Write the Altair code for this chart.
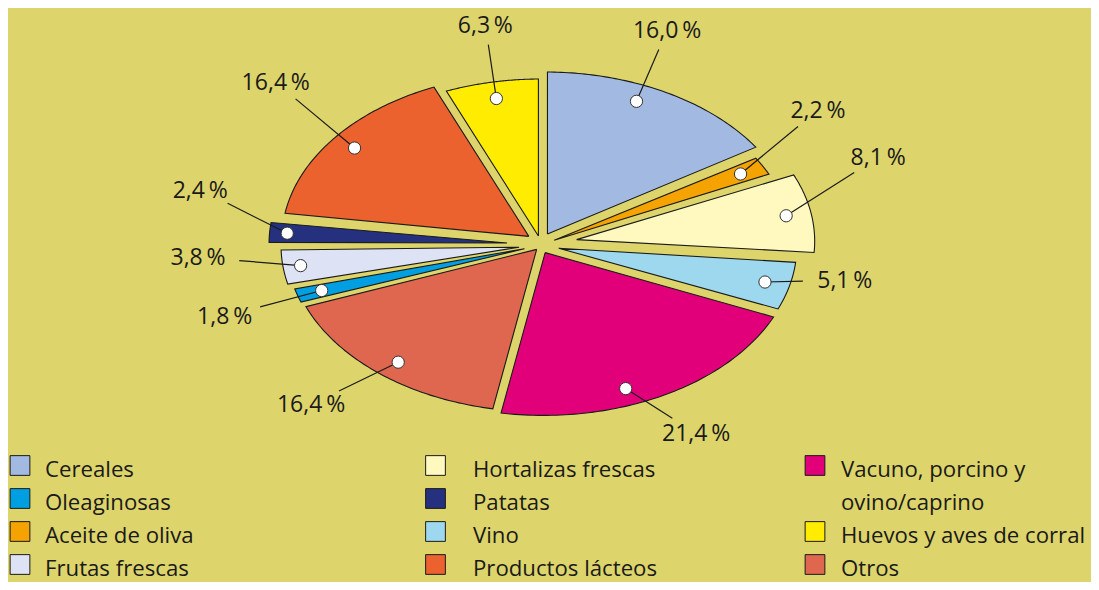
import altair as alt
import pandas as pd

# ---------------- data ----------------
categories = ["Cereales", "Aceite de oliva", "Hortalizas frescas", "Vino",
              "Vacuno, porcino y ovino/caprino", "Otros", "Oleaginosas",
              "Frutas frescas", "Patatas", "Productos lácteos",
              "Huevos y aves de corral"]
shares = [16.0, 2.2, 8.1, 5.1, 21.4, 16.4, 1.8, 3.8, 2.4, 16.4, 6.3]

legend_columns = [
    ["Cereales", "Oleaginosas", "Aceite de oliva", "Frutas frescas"],
    ["Hortalizas frescas", "Patatas", "Vino", "Productos lácteos"],
    ["Vacuno, porcino y ovino/caprino", "Huevos y aves de corral", "Otros"],
]
legend_wrap = {"Vacuno, porcino y ovino/caprino": "Vacuno, porcino y\novino/caprino"}

# ---------------- style ----------------
colors = ["#A2B9E1", "#F5A300", "#FFF8BF", "#9ED8EE", "#E2007A", "#DF664F",
          "#009FE1", "#DDE2F4", "#25307F", "#EC622E", "#FFEC00"]
explode = [8, 0, 22, 4, 5, 1, 3, 8, 20, 9, 0]                       # px, per slice
dot_nudge = [-5, 0, 0, 0, 7, -1, 0, 0, 0, 0, 0]                     # deg
dot_radius = [0.9, 0.9, 0.9, 0.9, 0.9, 0.9, 0.9, 0.93, 0.93, 0.9, 0.9]
label_nudge = [-7.7, -8.1, -11.7, -4.0, -0.2, 3.7, -1.5, 4.2, 10.0, 5.2, 1.9]   # deg
label_radius = [1.388, 1.367, 1.438, 1.224, 1.291, 1.325, 1.327, 1.363, 1.393, 1.438, 1.345]

BG = "#DDD56B"
INK = "#1A1A1A"
FONT = "Open Sans"
CX, CY, A, B = 541, 245, 252, 166
N = 72
G = 2.6          # half gap between slices (px)
CAP = 14         # max tip displacement for thin slices
HW, HH, GAP = 36, 14, 6

# the drawing area equals the page minus its 8px margin (coordinates = page pixels)
W, H = 1083, 574
xs = alt.Scale(domain=[8, 8 + W], nice=False, zero=False)
ys = alt.Scale(domain=[8 + H, 8], nice=False, zero=False)

pie_df = pd.DataFrame({
    "cat": categories,
    "share": shares,
    "order": list(range(len(categories))),
    "explode": explode,
    "dn": dot_nudge,
    "dr": dot_radius,
    "nudge": label_nudge,
    "lr": label_radius,
    "label": [f"{v:.1f}".replace(".", ",") + "\u2009%" for v in shares],
})

color_scale = alt.Scale(domain=categories, range=colors)


def calc(chart, **kw):
    for k, v in kw.items():
        chart = chart.transform_calculate(**{k: v})
    return chart


base = alt.Chart(pie_df).transform_window(
    cum="sum(share)", sort=[alt.SortField("order")]
).transform_joinaggregate(total="sum(share)")

base = calc(
    base,
    a0="2*PI*(datum.cum - datum.share)/datum.total",
    a1="2*PI*datum.cum/datum.total",
    am="(datum.a0 + datum.a1)/2",
    ox=f"{CX} + datum.explode*sin(datum.am)",
    oy=f"{CY} - datum.explode*cos(datum.am)",
)

# slice polygons (inset by G on both straight edges)
pts = calc(
    base,
    t0x=f"{A}*sin(datum.a0)", t0y=f"-{B}*cos(datum.a0)",
    t1x=f"{A}*sin(datum.a1)", t1y=f"-{B}*cos(datum.a1)",
    l0="sqrt(datum.t0x*datum.t0x + datum.t0y*datum.t0y)",
    l1="sqrt(datum.t1x*datum.t1x + datum.t1y*datum.t1y)",
    u0x="datum.t0x/datum.l0", u0y="datum.t0y/datum.l0",
    u1x="datum.t1x/datum.l1", u1y="datum.t1y/datum.l1",
    half="acos(clamp(datum.u0x*datum.u1x + datum.u0y*datum.u1y, -1, 1))/2",
    bxr="datum.u0x + datum.u1x", byr="datum.u0y + datum.u1y",
    bl="sqrt(datum.bxr*datum.bxr + datum.byr*datum.byr)",
    tip=f"min({G}/sin(datum.half), {CAP})",
    apx="datum.ox + datum.tip*datum.bxr/datum.bl",
    apy="datum.oy + datum.tip*datum.byr/datum.bl",
    cr0=f"abs(datum.u0x*{B}*sin(datum.a0) - datum.u0y*{A}*cos(datum.a0))",
    cr1=f"abs(datum.u1x*{B}*sin(datum.a1) - datum.u1y*{A}*cos(datum.a1))",
    b0=f"datum.a0 + {G}/datum.cr0",
    b1=f"datum.a1 - {G}/datum.cr1",
    seq=f"sequence(-1, {N + 2})",
).transform_flatten(["seq"])

pts = calc(
    pts,
    ang=f"datum.b0 + (datum.b1 - datum.b0)*min(max(datum.seq, 0), {N})/{N}",
    px=f"(datum.seq < 0 || datum.seq > {N}) ? datum.apx : datum.ox + {A}*sin(datum.ang)",
    py=f"(datum.seq < 0 || datum.seq > {N}) ? datum.apy : datum.oy - {B}*cos(datum.ang)",
)

slices = pts.mark_line(
    filled=True, stroke=INK, strokeWidth=1.1, strokeJoin="miter", strokeMiterLimit=4
).encode(
    x=alt.X("px:Q", scale=xs, axis=None),
    y=alt.Y("py:Q", scale=ys, axis=None),
    color=alt.Color("cat:N", scale=color_scale, legend=None),
    order=alt.Order("seq:Q"),
    detail="cat:N",
)

# dots, leader lines, labels
lab = calc(
    base,
    da="datum.am + datum.dn*PI/180",
    dx=f"datum.ox + datum.dr*{A}*sin(datum.da)",
    dy=f"datum.oy - datum.dr*{B}*cos(datum.da)",
    la="datum.am + datum.nudge*PI/180",
    lx=f"{CX} + datum.lr*{A}*sin(datum.la)",
    ly=f"{CY} - datum.lr*{B}*cos(datum.la)",
    vlen="sqrt(pow(datum.lx - datum.dx, 2) + pow(datum.ly - datum.dy, 2))",
    ux="(datum.lx - datum.dx)/datum.vlen",
    uy="(datum.ly - datum.dy)/datum.vlen",
    ext=f"1/sqrt(pow(datum.ux/{HW}, 2) + pow(datum.uy/{HH}, 2)) + {GAP}",
    ex="datum.lx - datum.ux*datum.ext",
    ey="datum.ly - datum.uy*datum.ext",
)

leaders = lab.mark_rule(color=INK, strokeWidth=1.2).encode(
    x=alt.X("dx:Q", scale=xs, axis=None),
    y=alt.Y("dy:Q", scale=ys, axis=None),
    x2="ex:Q",
    y2="ey:Q",
)

dots = lab.mark_point(
    shape="circle", filled=True, fill="white", stroke="#333333",
    strokeWidth=1, size=150, opacity=1
).encode(
    x=alt.X("dx:Q", scale=xs, axis=None),
    y=alt.Y("dy:Q", scale=ys, axis=None),
)

labels = lab.mark_text(
    font=FONT, fontSize=23, color=INK, align="center", baseline="alphabetic", dy=8
).encode(
    x=alt.X("lx:Q", scale=xs, axis=None),
    y=alt.Y("ly:Q", scale=ys, axis=None),
    text="label:N",
)

# legend (column-major, as in the original)
sq_x = [20, 435.5, 815]
tx_x = [45, 473, 841]
ROWH = 33
ROW0_TX = 477
ROW0_SQ = ROW0_TX - 11.5
rows = []
for c, col in enumerate(legend_columns):
    r = 0
    for cat in col:
        txt = legend_wrap.get(cat, cat)
        rows.append({"cat": cat, "text": txt,
                     "sx": sq_x[c], "tx": tx_x[c],
                     "sy": ROW0_SQ + ROWH * r, "ty": ROW0_TX + ROWH * r})
        r += txt.count("\n") + 1
leg_df = pd.DataFrame(rows)

leg_sq = alt.Chart(leg_df).mark_point(
    shape="square", filled=True, size=390, stroke=INK, strokeWidth=1, opacity=1
).encode(
    x=alt.X("sx:Q", scale=xs, axis=None),
    y=alt.Y("sy:Q", scale=ys, axis=None),
    color=alt.Color("cat:N", scale=color_scale, legend=None),
)

leg_tx = alt.Chart(leg_df).mark_text(
    font=FONT, fontSize=22.2, color=INK, align="left", baseline="alphabetic",
    lineBreak="\n", lineHeight=ROWH
).encode(
    x=alt.X("tx:Q", scale=xs, axis=None),
    y=alt.Y("ty:Q", scale=ys, axis=None),
    text="text:N",
)

chart = alt.layer(slices, leaders, dots, labels, leg_sq, leg_tx).properties(
    width=W, height=H, padding=0,
    autosize=alt.AutoSizeParams(type="none"),
).configure(background=BG).configure_view(strokeWidth=0)

chart.save("out.html", embed_options={"renderer": "svg", "actions": False})
